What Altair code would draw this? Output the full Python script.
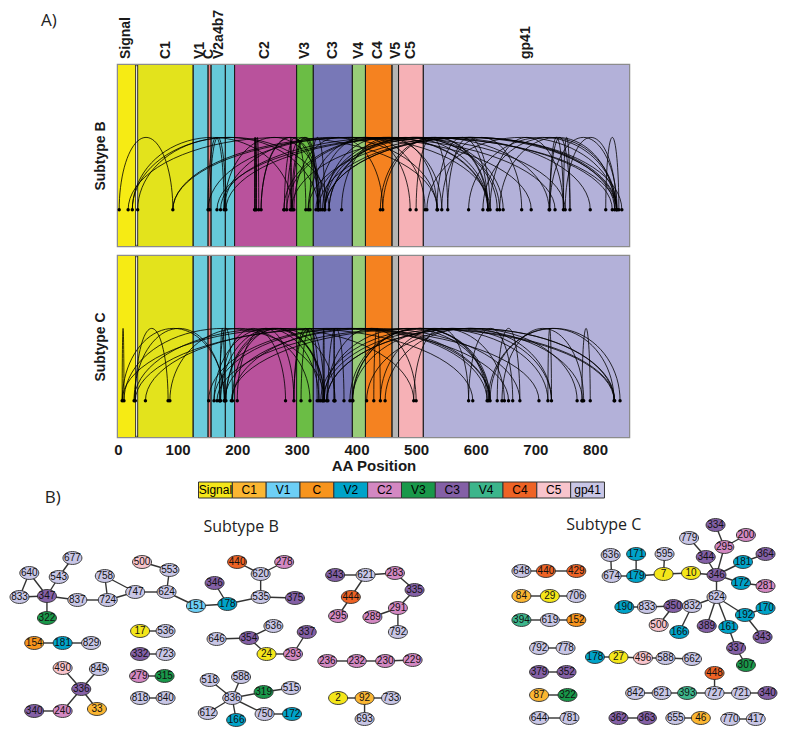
import altair as alt
import pandas as pd

FONT = "Liberation Sans"

# ---------------- Panel A: Env regions (AA positions) ----------------
region_names = ["Signal", "C1", "V1", "C", "V2", "a4b7", "C2", "V3", "C3", "V4", "C4", "V5", "C5", "gp41"]
region_start = [0, 33, 126, 151, 156, 180, 195.5, 299.5, 327.5, 393, 415, 459.5, 470.5, 512]
region_end = [29.6, 126, 151, 156, 180, 195.5, 299.5, 327.5, 393, 415, 459.5, 470.5, 512, 857]
region_colors = ["#f6eb14", "#e3e31c", "#6ccbdc", "#f08080", "#66c9d9", "#66c9d9", "#b9529c",
                 "#6bbd45", "#7878b7", "#98cc78", "#f58220", "#b4b4b4", "#f6b1b6", "#b3b1d9"]

label_text = ["Signal", "C1", "V1", "C", "V2a4b7", "C2", "V3", "C3", "V4", "C4", "V5", "C5", "gp41"]
label_pos = [14, 80, 137, 152, 169, 247, 313, 360, 404, 436, 466, 491, 684]

tick_values = [0, 100, 200, 300, 400, 500, 600, 700, 800]

# ---------------- Co-evolving pairs (network edges == arcs) ----------------
b_src = [677, 640, 640, 833, 543, 347, 347, 837, 758, 758, 724, 747, 500, 553, 624, 151, 346, 178, 535, 620,
         620, 535, 343, 621, 621, 444, 283, 335, 291, 291,
         154, 181, 17, 332, 279, 818, 490, 845, 336, 336, 240,
         646, 354, 354, 24, 293, 236, 232, 230, 518, 588, 836, 319, 612, 836, 836, 750, 2, 92, 92]
b_dst = [543, 347, 833, 347, 347, 322, 837, 724, 724, 747, 747, 624, 553, 624, 151, 178, 178, 535, 620, 440,
         278, 375, 621, 283, 444, 295, 335, 291, 289, 792,
         181, 829, 536, 723, 315, 840, 336, 336, 33, 240, 340,
         354, 636, 24, 293, 337, 232, 230, 229, 836, 836, 319, 515, 836, 166, 750, 172, 92, 733, 693]

c_src = [636, 674, 171, 179, 595, 7, 10, 779, 344, 334, 295, 295, 346, 181, 346, 172, 346, 190, 833, 350,
         832, 350, 832, 624, 624, 624, 192, 192, 161, 337,
         648, 440, 84, 29, 394, 619, 792, 178, 27, 496, 588, 379, 448, 87, 842, 621, 393, 727, 721,
         644, 362, 655, 770]
c_dst = [674, 179, 179, 7, 7, 10, 346, 344, 346, 295, 200, 346, 181, 364, 172, 281, 624, 833, 350, 832,
         624, 500, 166, 389, 161, 192, 170, 343, 337, 307,
         440, 429, 29, 706, 619, 152, 778, 27, 496, 588, 662, 352, 727, 322, 621, 393, 727, 721, 340,
         781, 363, 46, 417]

# ---------------- Network nodes (layout coordinates) ----------------
b_id = [677, 640, 543, 833, 347, 837, 322, 758, 724, 747, 500, 553, 624, 151, 178, 346, 440, 620, 278, 535,
        375, 343, 621, 283, 444, 335, 291, 295, 289, 792,
        154, 181, 829, 17, 536, 332, 723, 279, 315, 818, 840, 490, 845, 336, 33, 240, 340,
        646, 354, 636, 24, 293, 337, 236, 232, 230, 229, 518, 588, 836, 319, 515, 612, 166, 750, 172,
        2, 92, 733, 693]
b_reg = ["gp41", "gp41", "gp41", "gp41", "C3", "gp41", "V3", "gp41", "gp41", "gp41", "C5", "gp41", "gp41",
         "V1", "V2", "C3", "C4", "gp41", "C2", "gp41",
         "C3", "C3", "gp41", "C2", "C4", "C3", "C2", "C2", "C2", "gp41",
         "C", "V2", "gp41", "Signal", "gp41", "C3", "gp41", "C2", "V3", "gp41", "gp41", "C5", "gp41", "C3",
         "C1", "C2", "C3",
         "gp41", "C3", "gp41", "Signal", "C2", "C3", "C2", "C2", "C2", "C2", "gp41", "gp41", "gp41", "V3",
         "gp41", "gp41", "V2", "gp41", "V2",
         "Signal", "C1", "gp41", "gp41"]
b_gx = [66, 22, 52, 12, 40, 71, 40, 99, 102, 130, 137, 165, 162, 192, 224, 211, 234, 258, 282, 258,
        293, 334, 365, 395, 350, 415, 398, 337, 372, 398,
        27, 56, 85, 135, 161, 135, 161, 134, 160, 135, 161, 56, 93, 75, 91, 56, 27,
        213, 246, 271, 264, 291, 305, 326, 356, 385, 413, 206, 238, 229, 261, 289, 204, 233, 262, 290,
        337, 364, 391, 364]
b_gy = [563, 578, 582, 602, 601, 605, 623, 581, 605, 597, 567, 575, 597, 611, 609, 588, 567, 579, 567, 602,
        603, 580, 580, 578, 602, 595, 613, 621, 622, 637,
        648, 648, 648, 636, 636, 659, 659, 681, 681, 703, 703, 673, 674, 694, 714, 716, 716,
        644, 643, 631, 659, 659, 637, 666, 666, 666, 665, 685, 682, 703, 697, 693, 718, 725, 719, 719,
        703, 703, 703, 724]

c_id = [648, 440, 429, 84, 29, 706, 394, 619, 152, 334, 200, 779, 295, 344, 636, 171, 595, 674, 179, 7,
        10, 346, 181, 364, 172, 281, 624, 190, 833, 350, 832, 500, 166, 389, 161, 192, 170, 343, 337, 307,
        792, 778, 178, 27, 496, 588, 662, 379, 352, 448, 87, 322, 842, 621, 393, 727, 721, 340,
        644, 781, 362, 363, 655, 46, 770, 417]
c_reg = ["gp41", "C4", "C4", "C1", "Signal", "gp41", "V4", "gp41", "C", "C3", "C2", "gp41", "C2", "C3",
         "gp41", "V2", "gp41", "gp41", "V2", "Signal",
         "Signal", "C3", "V2", "C3", "V2", "C2", "gp41", "V2", "gp41", "C3", "gp41", "C5", "V2", "C3", "V2",
         "V2", "V2", "C3", "C3", "V3",
         "gp41", "gp41", "V2", "Signal", "C5", "gp41", "gp41", "C3", "C3", "C4", "C1", "V3", "gp41", "gp41",
         "V4", "gp41", "gp41", "C3",
         "gp41", "gp41", "C3", "C3", "gp41", "C1", "gp41", "gp41"]
c_gx = [524, 549, 580, 524, 553, 580, 524, 553, 580, 722, 753, 695, 731, 712, 615, 641, 670, 616, 641, 669,
        697, 723, 750, 773, 748, 773, 723, 629, 652, 679, 698, 664, 685, 713, 735, 752, 773, 770, 743, 753,
        542, 569, 599, 623, 648, 671, 698, 542, 570, 721, 542, 571, 640, 667, 693, 721, 748, 775,
        542, 573, 623, 652, 681, 707, 737, 763]
c_gy = [576, 576, 576, 601, 601, 601, 625, 625, 625, 530, 540, 543, 552, 562, 560, 559, 559, 581, 581, 579,
        578, 580, 567, 559, 588, 591, 602, 612, 612, 611, 611, 630, 637, 631, 632, 620, 613, 642, 653, 670,
        653, 653, 662, 662, 663, 663, 664, 677, 677, 678, 700, 700, 698, 698, 698, 698, 698, 698,
        723, 723, 723, 723, 723, 723, 724, 724]

title_text = ["Subtype B", "Subtype C"]
title_gx = [238, 608]
title_gy = [532, 530]

# ---------------- Legend strip ----------------
leg_names = ["Signal", "C1", "V1", "C", "V2", "C2", "V3", "C3", "V4", "C4", "C5", "gp41"]
net_colors = ["#f4e61a", "#fbb632", "#6dcff6", "#f7941d", "#00a3c9", "#d388c2", "#19984a", "#8460a6",
              "#3cb58b", "#ee6325", "#f8c4cc", "#c8c6e6"]
net_scale = alt.Scale(domain=leg_names, range=net_colors)

PANEL_W = 511
PANEL_H = 181


def arc_panel(src, dst, ytitle, bottom):
    xs = alt.Scale(domain=[0, 857], nice=False, zero=False)
    ys = alt.Scale(domain=[-0.5, 2.0], nice=False, zero=False)
    if bottom:
        xaxis = alt.Axis(values=tick_values, title="AA Position", labelFont=FONT, labelFontSize=15,
                         labelFontWeight="bold", labelColor="#1a1a1a", ticks=False, domain=False,
                         grid=False, labelPadding=5, labelFlush=False, titleFont=FONT, titleFontSize=15,
                         titleFontWeight="bold", titleColor="#1a1a1a", titlePadding=1)
    else:
        xaxis = None
    yaxis = alt.Axis(title=ytitle, labels=False, ticks=False, domain=False, grid=False, titleFont=FONT,
                     titleFontSize=14, titleFontWeight="bold", titleColor="#1a1a1a", titlePadding=11)

    reg = pd.DataFrame({"name": region_names, "start": region_start, "end": region_end})
    bands = alt.Chart(reg).mark_rect().encode(
        x=alt.X("start:Q", scale=xs, axis=xaxis),
        x2="end:Q",
        color=alt.Color("name:N", scale=alt.Scale(domain=region_names, range=region_colors), legend=None),
    )
    rule_s = alt.Chart(reg).transform_filter("datum.start > 0").mark_rule(
        color="#1a1a1a", strokeWidth=0.9).encode(x=alt.X("start:Q", scale=xs, axis=xaxis))
    rule_e = alt.Chart(reg).transform_filter("datum.end < 857").mark_rule(
        color="#1a1a1a", strokeWidth=0.9).encode(x=alt.X("end:Q", scale=xs, axis=xaxis))

    edf = pd.DataFrame({"a": src, "b": dst, "eid": list(range(len(src)))})
    arcs = alt.Chart(edf).transform_calculate(
        t="sequence(0, 1.0001, 0.025)"
    ).transform_flatten(["t"]).transform_calculate(
        ax="datum.a + (datum.b - datum.a) * (1 - cos(PI * datum.t)) / 2",
        ay="sin(PI * datum.t)",
    ).mark_line(color="black", strokeWidth=0.8).encode(
        x=alt.X("ax:Q", scale=xs, axis=xaxis),
        y=alt.Y("ay:Q", scale=ys, axis=yaxis),
        detail="eid:N",
        order="t:Q",
    )

    ids = sorted(set(src) | set(dst))
    ddf = pd.DataFrame({"pos": ids})
    dots = alt.Chart(ddf).transform_calculate(base="0").mark_circle(
        size=12, color="black", opacity=1).encode(
        x=alt.X("pos:Q", scale=xs, axis=xaxis),
        y=alt.Y("base:Q", scale=ys, axis=yaxis),
    )
    layers = [bands, rule_s, rule_e, arcs, dots]
    if not bottom:
        ldf = pd.DataFrame({"label": label_text, "pos": label_pos})
        labels = alt.Chart(ldf).mark_text(
            angle=270, align="left", baseline="middle", font=FONT, fontSize=14, fontWeight="bold",
            color="#1a1a1a").encode(
            x=alt.X("pos:Q", scale=xs, axis=xaxis), y=alt.value(-6), text="label:N")
        alab = alt.Chart(pd.DataFrame({"t": ["A)"]})).mark_text(
            align="left", baseline="middle", font="Open Sans", fontSize=17, color="#222222").encode(
            x=alt.value(-77), y=alt.value(-44), text="t:N")
        layers += [labels, alab]
    return alt.layer(*layers).properties(
        width=PANEL_W, height=PANEL_H,
        view=alt.ViewBackground(stroke="#8c8c8c", strokeWidth=2.5),
    )


top = arc_panel(b_src, b_dst, "Subtype B", False)
bottom = arc_panel(c_src, c_dst, "Subtype C", True)

# Legend strip: the strip sits in the lowest part of a taller row
ldf = pd.DataFrame({"name": leg_names, "i": list(range(len(leg_names)))})
xs_leg = alt.Scale(domain=[-2.38, 12.725], nice=False, zero=False)
ys_leg = alt.Scale(domain=[0, 51 / 16], nice=False, zero=False)
leg_rect = alt.Chart(ldf).transform_calculate(i1="datum.i + 1", lo="0", hi="1").mark_rect(
    stroke="#333333", strokeWidth=1).encode(
    x=alt.X("i:Q", scale=xs_leg, axis=None), x2="i1:Q",
    y=alt.Y("lo:Q", scale=ys_leg, axis=None), y2="hi:Q",
    fill=alt.Fill("name:N", scale=net_scale, legend=None))
leg_text = alt.Chart(ldf).transform_calculate(im="datum.i + 0.5", mid="0.5").mark_text(
    font=FONT, fontSize=12, color="black").encode(
    x=alt.X("im:Q", scale=xs_leg, axis=None),
    y=alt.Y("mid:Q", scale=ys_leg, axis=None), text="name:N")
legend = alt.layer(leg_rect, leg_text).properties(width=PANEL_W, height=51)

# Networks
nodes = pd.DataFrame({
    "key": ["B" + str(i) for i in b_id] + ["C" + str(i) for i in c_id],
    "label": [str(i) for i in b_id + c_id],
    "gx": b_gx + c_gx,
    "gy": b_gy + c_gy,
    "region": b_reg + c_reg,
})
edges = pd.DataFrame({
    "s": ["B" + str(i) for i in b_src] + ["C" + str(i) for i in c_src],
    "t": ["B" + str(i) for i in b_dst] + ["C" + str(i) for i in c_dst],
})
xs_net = alt.Scale(domain=[112.48, 633.73], nice=False, zero=False)
ys_net = alt.Scale(domain=[513, 728], nice=False, zero=False, reverse=True)

net_edges = alt.Chart(edges).transform_lookup(
    lookup="s", from_=alt.LookupData(data=nodes, key="key", fields=["gx", "gy"]), as_=["sx", "sy"]
).transform_lookup(
    lookup="t", from_=alt.LookupData(data=nodes, key="key", fields=["gx", "gy"]), as_=["tx", "ty"]
).mark_rule(color="#333333", strokeWidth=1.4).encode(
    x=alt.X("sx:Q", scale=xs_net, axis=None), y=alt.Y("sy:Q", scale=ys_net, axis=None),
    x2="tx:Q", y2="ty:Q")

ELLIPSE = "M -1 0 A 1 0.68 0 1 1 1 0 A 1 0.68 0 1 1 -1 0 Z"
net_nodes = alt.Chart(nodes).mark_point(
    shape=ELLIPSE, size=361, filled=True, stroke="#2b2b2b", strokeWidth=0.9, opacity=1, fillOpacity=1
).encode(
    x=alt.X("gx:Q", scale=xs_net, axis=None), y=alt.Y("gy:Q", scale=ys_net, axis=None),
    fill=alt.Fill("region:N", scale=net_scale, legend=None))
net_labels = alt.Chart(nodes).mark_text(font=FONT, fontSize=10, color="#111111").encode(
    x=alt.X("gx:Q", scale=xs_net, axis=None), y=alt.Y("gy:Q", scale=ys_net, axis=None),
    text="label:N")
tdf = pd.DataFrame({"t": title_text, "gx": title_gx, "gy": title_gy})
net_titles = alt.Chart(tdf).mark_text(font="Open Sans", fontSize=16, color="#222222").encode(
    x=alt.X("gx:Q", scale=xs_net, axis=None), y=alt.Y("gy:Q", scale=ys_net, axis=None), text="t:N")
bdf = pd.DataFrame({"t": ["B)"], "gx": [46], "gy": [503]})
net_b = alt.Chart(bdf).mark_text(font="Open Sans", fontSize=17, color="#222222").encode(
    x=alt.X("gx:Q", scale=xs_net, axis=None), y=alt.Y("gy:Q", scale=ys_net, axis=None), text="t:N")
network = alt.layer(net_edges, net_nodes, net_labels, net_titles, net_b).properties(width=PANEL_W, height=215)

chart = alt.vconcat(
    top, bottom, legend, network,
    spacing=10,
    bounds="flush",
).properties(padding=0).configure_view(stroke=None)

chart.save("out.html", embed_options={"renderer": "svg", "actions": False})
